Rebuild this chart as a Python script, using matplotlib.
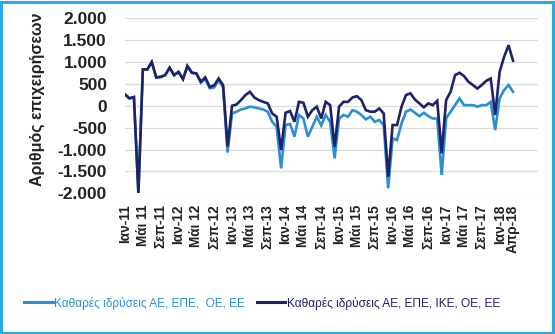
import matplotlib
matplotlib.use("Agg")
import matplotlib.pyplot as plt
from matplotlib.patches import Rectangle
import numpy as np

plt.rcParams["font.family"] = ["Liberation Sans", "DejaVu Sans"]

# monthly net company formations, Jan 2011 - Apr 2018
MONTHS = ["Ιαν", "Φεβ", "Μαρ", "Απρ", "Μάι", "Ιουν", "Ιουλ", "Αυγ", "Σεπ", "Οκτ", "Νοε", "Δεκ"]
with_ike = [260, 170, 200, -1990, 830, 830, 1000, 650, 660, 700, 870, 700,
            775, 610, 910, 755, 740, 550, 650, 430, 470, 625, 470, -930,
            0, 30, 130, 245, 320, 190, 130, 90, 55, -175, -250, -1010,
            -160, -120, -365, 90, 70, -250, -100, -20, -290, 90, 15, -935,
            -20, 90, 90, 190, 220, 130, -100, -135, -135, -60, -175, -1620,
            -440, -440, -20, 245, 285, 145, 55, -35, 55, 15, 115, -1085,
            130, 320, 700, 755, 680, 550, 475, 395, 475, 570, 625, -210,
            775, 1120, 1385, 1030]
without_ike = [260, 170, 200, -1990, 830, 830, 1000, 650, 660, 700, 870, 700,
               775, 610, 910, 755, 740, 530, 620, 400, 420, 585, 420, -1070,
               -175, -135, -85, -60, -20, -35, -60, -85, -135, -365, -480, -1430,
               -440, -415, -705, -210, -290, -705, -480, -250, -450, -210, -365, -1200,
               -290, -210, -250, -100, -135, -210, -310, -250, -365, -325, -440, -1885,
               -745, -785, -405, -135, -85, -160, -235, -160, -235, -290, -290, -1580,
               -290, -135, 15, 170, 15, 15, 15, -20, 15, 15, 90, -555,
               170, 360, 475, 320]
labels = ["Καθαρές ιδρύσεις ΑΕ, ΕΠΕ,  ΟΕ, ΕΕ",
          "Καθαρές ιδρύσεις ΑΕ, ΕΠΕ, ΙΚΕ, ΟΕ, ΕΕ"]

LIGHT = "#2A8FD4"
DARK = "#1E2266"

n = len(with_ike)
x = np.arange(n)
tick_pos = list(range(0, n, 4)) + [n - 1]
tick_lab = []
for i in tick_pos:
    m, y = i % 12, 11 + i // 12
    sep = " " if MONTHS[m] == "Μάι" else "-"
    tick_lab.append(f"{MONTHS[m]}{sep}{y}")

fig = plt.figure(figsize=(5.55, 3.34), dpi=100)
ax = fig.add_axes([125 / 555, 1 - 193.3 / 334, 413 / 555, 175 / 334])

l1, = ax.plot(x, without_ike, color=LIGHT, lw=1.9, solid_joinstyle="miter")
l2, = ax.plot(x, with_ike, color=DARK, lw=1.9, solid_joinstyle="miter")

ax.set_xlim(0, 92.6)
ax.set_ylim(-2000, 2000)
ax.set_yticks(np.arange(-2000, 2001, 500))
ax.set_yticklabels([f"{v:,}".replace(",", ".") for v in range(-2000, 2001, 500)],
                   fontsize=12.5, fontweight="bold", color="#222222")
ax.set_xticks(tick_pos)
ax.set_xticklabels(tick_lab, rotation=90, fontsize=9.8, fontweight="bold", color="#222222")
ax.tick_params(axis="y", length=0, pad=13)
ax.tick_params(axis="x", length=0, pad=8)
ax.grid(axis="y", color="#DADADA", lw=0.9)
ax.set_axisbelow(True)
for s in ax.spines.values():
    s.set_visible(False)

fig.text(37 / 555, 1 - 99 / 334, "Αριθμός επιχειρήσεων", rotation=90,
         ha="center", va="center", fontsize=11.5, fontweight="bold", color="#222222")

leg = fig.legend([l1, l2], labels, loc="center", bbox_to_anchor=(262 / 555, 1 - 303 / 334),
                 ncol=2, frameon=False, fontsize=8.6, handlelength=2.4,
                 handletextpad=0.1, columnspacing=1.0)
for t, c in zip(leg.get_texts(), [LIGHT, DARK]):
    t.set_color(c)
for h in leg.get_lines():
    h.set_linewidth(2.2)

fig.patches.append(Rectangle((0.002, 0.003), 0.994, 0.992, transform=fig.transFigure,
                             fill=False, ec="#2AAAE2", lw=2.2))

fig.savefig("out.png", dpi=100)
